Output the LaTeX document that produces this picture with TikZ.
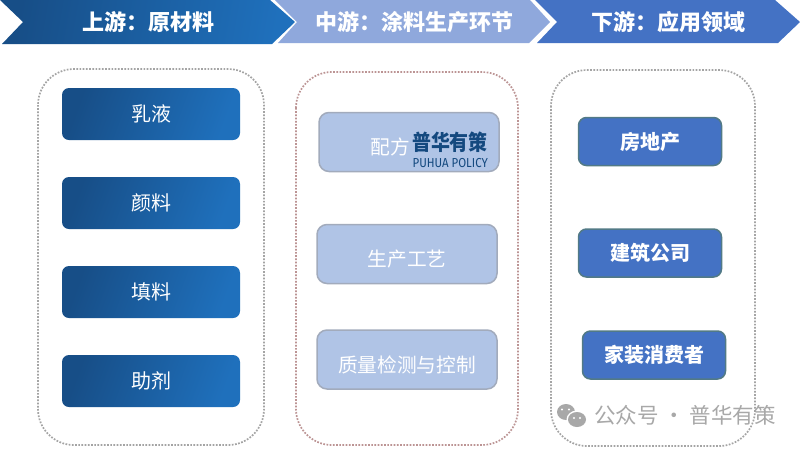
\documentclass[tikz,border=0pt]{standalone}
\usepackage{fontspec}
\setmainfont{Noto Sans CJK SC}
\newfontfamily\cjk{Noto Sans CJK SC}
\newfontfamily\logolat{Fira Sans}
\definecolor{dkA}{HTML}{174E87}
\definecolor{dkB}{HTML}{1F70BC}
\definecolor{lt}{HTML}{8FA8DC}
\definecolor{mid}{HTML}{4472C4}
\definecolor{paleF}{HTML}{B0C4E6}
\definecolor{paleB}{HTML}{A2ABBC}
\definecolor{midB}{HTML}{527A86}
\definecolor{dotG}{HTML}{A4A4A4}
\definecolor{dotR}{HTML}{BC9494}
\definecolor{logoB}{HTML}{14497F}
\definecolor{wm}{HTML}{A8A8A8}
\tikzset{
 x=1pt,y=-1pt,
 hdr/.style={text=white,font=\cjk\fontsize{22}{22}\selectfont\bfseries,inner sep=0pt},
 dkbox/.style={rounded corners=7pt,draw=none,minimum width=178pt,minimum height=52pt,inner sep=0pt,
   text=white,font=\cjk\fontsize{20}{20}\selectfont,
   left color=dkA,right color=dkB,shading angle=70},
 palebox/.style={rounded corners=10pt,draw=paleB,line width=1.5pt,fill=paleF,minimum width=180pt,minimum height=59pt,inner sep=0pt},
 paletxt/.style={text=white,inner sep=0pt,font=\cjk\fontsize{19.7}{20}\selectfont},
 midbox/.style={rounded corners=8pt,draw=midB,line width=1.5pt,fill=mid,minimum width=143pt,minimum height=48pt,inner sep=0pt,
   text=white,font=\cjk\fontsize{20}{20}\selectfont\bfseries},
 cont/.style={rounded corners=36pt,line width=1.7pt,dash pattern=on 1.7pt off 1.5pt,fill=white},
}
\begin{document}
\begin{tikzpicture}
\useasboundingbox (0,0) rectangle (800,448);
\fill[white] (0,0) rectangle (800,448);
% chevrons
\shade[left color=dkA,right color=dkB,shading angle=80] (0,0) -- (270,0) -- (295,22) -- (272,44) -- (2,44) -- (23,22) -- cycle;
\fill[lt] (275,0) -- (530,0) -- (550,22) -- (529,43) -- (278,43) -- (297,22) -- cycle;
\fill[mid] (535,0) -- (775,0) -- (800,22) -- (778,43) -- (537,43) -- (557,22) -- cycle;
\node[hdr] (h1) at (148,22) {上游：原材料};
\node[hdr] (h2) at (414,22) {中游：涂料生产环节};
\node[hdr] (h3) at (668,22) {下游：应用领域};
% containers
\draw[cont,draw=dotG] (38,69) rectangle (264,445);
\draw[cont,draw=dotR] (296,72) rectangle (518,445);
\draw[cont,draw=dotG] (551,70) rectangle (755,446);
% left boxes
\node[dkbox] (a1) at (151,114) {乳液};
\node[dkbox] (a2) at (151,203) {颜料};
\node[dkbox] (a3) at (151,292) {填料};
\node[dkbox] (a4) at (151,381) {助剂};
% middle boxes
\node[palebox] (b1) at (409,142) {};
\node[palebox] (b2) at (407,254) {};
\node[palebox] (b3) at (407,359.5) {};
\node[paletxt] (b2t) at (407,259) {生产工艺};
\node[paletxt] (b3t) at (407,365) {质量检测与控制};
\node[paletxt,anchor=east] (b1t) at (410,147) {配方};
\node[text=logoB,font=\cjk\fontsize{21.5}{22}\selectfont\bfseries,inner sep=0pt,anchor=east] (logo) at (488,142.5) {\scalebox{.88}[1]{普华有策}};
\node[text=logoB,font=\logolat\fontsize{13}{13}\selectfont,inner sep=0pt,anchor=east] (logo2) at (488,163.5) {\scalebox{.88}[1]{PUHUA POLICY}};
% right boxes
\node[midbox] (c1) at (650,141.5) {房地产};
\node[midbox] (c2) at (650,253) {建筑公司};
\node[midbox] (c3) at (654,355) {家装消费者};
% watermark
\node[text=wm,font=\cjk\fontsize{21.5}{22}\selectfont,inner sep=0pt,anchor=west] (wmk) at (594,415) {公众号 · 普华有策};
\fill[wm] (566,412) ellipse (9 and 8);
\fill[white] (577,419.5) ellipse (10.5 and 9);
\fill[wm] (577,419.5) ellipse (9 and 7.5);
\fill[white] (562,409.5) circle (1.2) (569,409.5) circle (1.2) (574,418) circle (1.1) (580,418) circle (1.1);
\end{tikzpicture}
\end{document}
